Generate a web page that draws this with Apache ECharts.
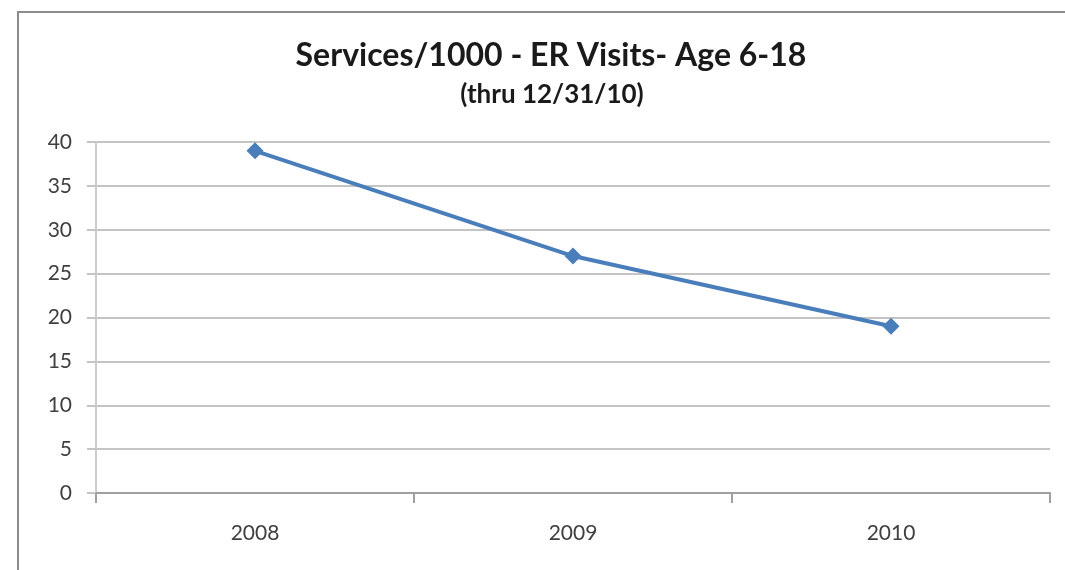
<!DOCTYPE html>
<html>
<head>
<meta charset="utf-8">
<script src="https://cdn.jsdelivr.net/npm/echarts@6/dist/echarts.min.js"></script>
<style>
  html, body { margin: 0; padding: 0; background: #fff; }
  #chart { width: 1065px; height: 570px; }
</style>
</head>
<body>
<div id="chart"></div>
<script>
// ER visits per 1000 members, ages 6-18
const years = ['2008', '2009', '2010'];
const servicesPer1000 = [39, 27, 19];
const yTicks = { min: 0, max: 40, step: 5 };

const chart = echarts.init(document.getElementById('chart'), null, { renderer: 'canvas' });
const font = 'Lato, "Open Sans", sans-serif';

chart.setOption({
  animation: false,
  backgroundColor: '#fff',
  // chart frame: left and top edges
  graphic: [{
    type: 'polyline',
    shape: { points: [[18, 570], [18, 12], [1065, 12]] },
    style: { fill: 'none', stroke: '#8c8c8c', lineWidth: 2 },
    silent: true
  }],
  title: [{
    text: 'Services/1000 - ER Visits- Age 6-18',
    left: 546,
    textAlign: 'center',
    top: 35,
    textStyle: { fontFamily: font, fontWeight: 'bold', fontSize: 32, color: '#1a1a1a' }
  }, {
    text: '(thru 12/31/10)',
    left: 547,
    textAlign: 'center',
    top: 77,
    textStyle: { fontFamily: font, fontWeight: 'bold', fontSize: 26, color: '#1a1a1a' }
  }],
  grid: { left: 96, right: 15, top: 142, bottom: 77, containLabel: false },
  xAxis: {
    type: 'category',
    data: years,
    boundaryGap: true,
    axisLine: { lineStyle: { color: '#a0a0a0', width: 2 } },
    axisTick: { show: true, length: 10, lineStyle: { color: '#a0a0a0', width: 2 } },
    axisLabel: { margin: 30, fontFamily: font, fontSize: 21, color: '#404040' }
  },
  yAxis: {
    type: 'value',
    min: yTicks.min,
    max: yTicks.max,
    interval: yTicks.step,
    axisLine: { show: true, lineStyle: { color: '#cccccc', width: 2 } },
    axisTick: { show: true, length: 9, lineStyle: { color: '#c4c4c4', width: 2 } },
    axisLabel: { margin: 24, fontFamily: font, fontSize: 21, color: '#404040' },
    splitLine: { lineStyle: { color: '#c4c4c4', width: 2 } }
  },
  series: [{
    type: 'line',
    data: servicesPer1000,
    symbol: 'diamond',
    symbolSize: 17,
    lineStyle: { color: '#4a7ebb', width: 4 },
    itemStyle: { color: '#4a7ebb' }
  }]
});
</script>
</body>
</html>
